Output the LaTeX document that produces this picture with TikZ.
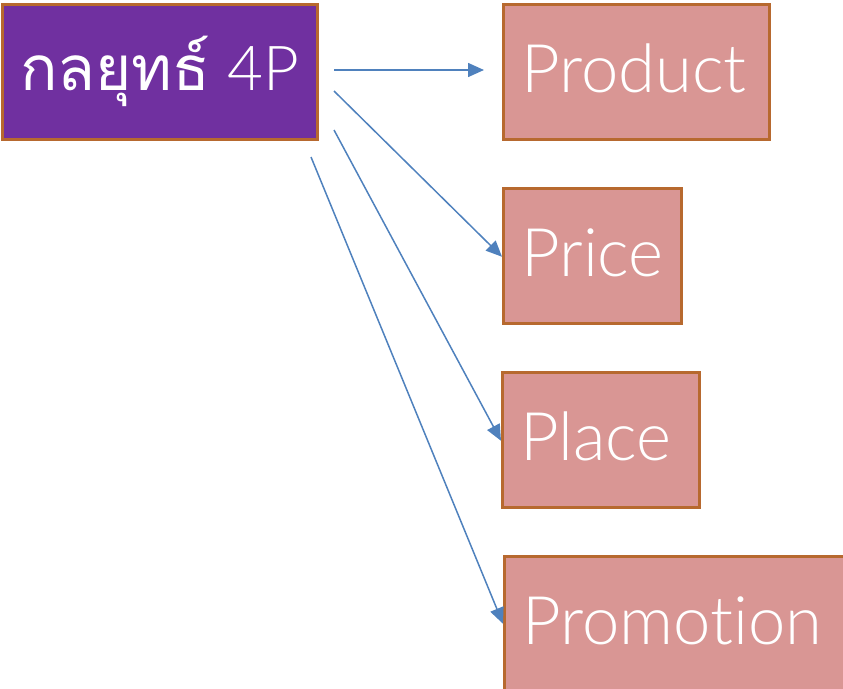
\documentclass[tikz,border=0pt]{standalone}
\usepackage{fontspec}
\setmainfont{Lato Light}[Ligatures=NoCommon]
\newfontfamily\thaifont[Script=Thai]{Loma}
\usetikzlibrary{arrows.meta}
\definecolor{boxpink}{HTML}{D99694}
\definecolor{boxedge}{HTML}{B7692F}
\definecolor{titlepurple}{HTML}{7030A0}
\definecolor{arrowblue}{HTML}{4F81BD}
\tikzset{
  pbox/.style={draw=boxedge, line width=2.5pt, fill=boxpink, anchor=north west,
    minimum height=135pt, inner xsep=18pt, inner ysep=0pt, align=left,
    text=white, font=\fontsize{67}{67}\selectfont},
  conn/.style={draw=arrowblue, line width=1.5pt, -{Triangle[length=16pt,width=14pt]}},
}
\begin{document}
\begin{tikzpicture}[x=1pt,y=-1pt]
\useasboundingbox (0,0) rectangle (843,688);
\clip (0,0) rectangle (843,688);
\node[draw=boxedge, line width=2.5pt, fill=titlepurple, anchor=north west,
  minimum width=315pt, minimum height=135pt, inner sep=0pt, text=white,
  font=\fontsize{62}{62}\selectfont] (title) at (1,3) {\raisebox{3pt}{{\thaifont กลยุทธ์} 4P}};
\node[pbox, text width=230pt] (product) at (502,3) {\raisebox{7pt}{Product}};
\node[pbox, text width=142pt] (price) at (502,187) {\raisebox{7pt}{Price}};
\node[pbox, text width=161pt] (place) at (501,371) {\raisebox{7pt}{Place}};
\node[pbox, text width=334pt] (promo) at (503,555) {\raisebox{7pt}{Promotion}};
\coordinate (s1) at (334,70);
\coordinate (s2) at (334,91);
\coordinate (s3) at (334,130);
\coordinate (s4) at (311,157);
\coordinate (e1) at (484,70);
\draw[conn] (s1) -- (e1);
\draw[conn] (s2) -- ([yshift=-1pt]price.west);
\draw[conn] (s3) -- ([yshift=-1pt]place.west);
\draw[conn] (s4) -- (promo.west);
\end{tikzpicture}
\end{document}
